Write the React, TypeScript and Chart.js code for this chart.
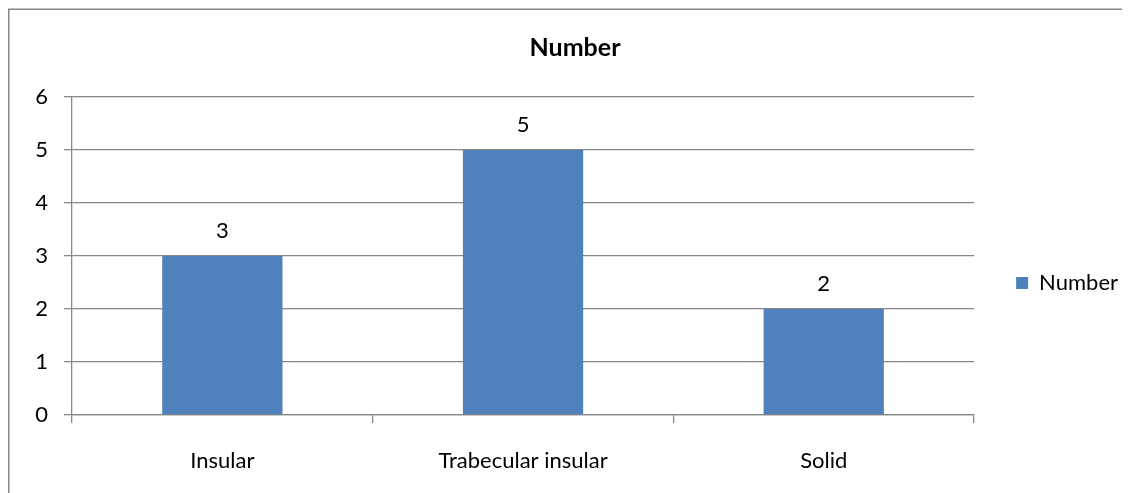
import React, { useEffect, useRef } from 'react';
import { Chart, registerables } from 'chart.js';

Chart.register(...registerables);

const categories = ['Insular', 'Trabecular insular', 'Solid'];
const values = [3, 5, 2];
const seriesName = 'Number';
const chartTitle = 'Number';
const yTicks = [0, 1, 2, 3, 4, 5, 6];

const FONT = 'Lato, "Open Sans", sans-serif';
const GRID = '#868686';
const BAR = '#4F81BD';

const borderPlugin = {
  id: 'outerBorder',
  beforeDraw(chart: any) {
    const ctx = chart.ctx;
    ctx.save();
    ctx.strokeStyle = GRID;
    ctx.lineWidth = 1.5;
    ctx.beginPath();
    ctx.moveTo(0.75, chart.height + 10);
    ctx.lineTo(0.75, 1.25);
    ctx.lineTo(chart.width + 10, 1.25);
    ctx.stroke();
    ctx.restore();
  },
};

const valueLabels = {
  id: 'valueLabels',
  afterDatasetsDraw(chart: any) {
    const ctx = chart.ctx;
    chart.data.datasets.forEach((ds: any, i: number) => {
      const meta = chart.getDatasetMeta(i);
      meta.data.forEach((el: any, j: number) => {
        ctx.save();
        ctx.font = `22px ${FONT}`;
        ctx.fillStyle = '#000';
        ctx.textAlign = 'center';
        ctx.textBaseline = 'middle';
        ctx.fillText(String(ds.data[j]), el.x, el.y - 25);
        ctx.restore();
      });
    });
  },
};

export default function App() {
  const ref = useRef<HTMLCanvasElement>(null);
  useEffect(() => {
    document.body.style.overflow = 'hidden';
    const tickFont = { family: FONT, size: 22 };
    const chart = new Chart(ref.current!, {
      type: 'bar',
      data: {
        labels: categories,
        datasets: [
          {
            label: seriesName,
            data: values,
            backgroundColor: BAR,
            borderWidth: 0,
            barPercentage: 0.4,
            categoryPercentage: 1.0,
          },
        ],
      },
      options: {
        responsive: false,
        animation: false,
        layout: { padding: { left: 14, right: 2, top: 0, bottom: 18 } },
        plugins: {
          title: {
            display: true,
            text: chartTitle,
            color: '#000',
            font: { family: FONT, size: 25, weight: 'bold' },
            padding: { top: 25, bottom: 34 },
          },
          legend: {
            position: 'right',
            fullSize: false,
            labels: {
              boxWidth: 12,
              boxHeight: 12,
              padding: 42,
              color: '#000',
              font: tickFont,
            },
            title: { display: true, text: '', font: { size: 10, lineHeight: 1 }, padding: 22 },
          },
          tooltip: { enabled: false },
        },
        scales: {
          x: {
            grid: { drawOnChartArea: false, offset: true, tickLength: 8, color: GRID, lineWidth: 1.3 },
            border: { color: GRID, width: 1.3 },
            ticks: { color: '#000', font: tickFont, padding: 25 },
            afterFit: (s: any) => {
              s.height = 60;
            },
          },
          y: {
            min: yTicks[0],
            max: yTicks[yTicks.length - 1],
            ticks: { stepSize: 1, color: '#000', font: tickFont, padding: 16 },
            grid: { color: GRID, tickLength: 8, lineWidth: 1.3 },
            border: { color: GRID, width: 1.3 },
            afterFit: (s: any) => {
              s.width = 50;
            },
          },
        },
      },
      plugins: [borderPlugin, valueLabels],
    } as any);
    return () => chart.destroy();
  }, []);
  return <canvas ref={ref} width={1122} height={485} style={{ display: 'block' }} />;
}
